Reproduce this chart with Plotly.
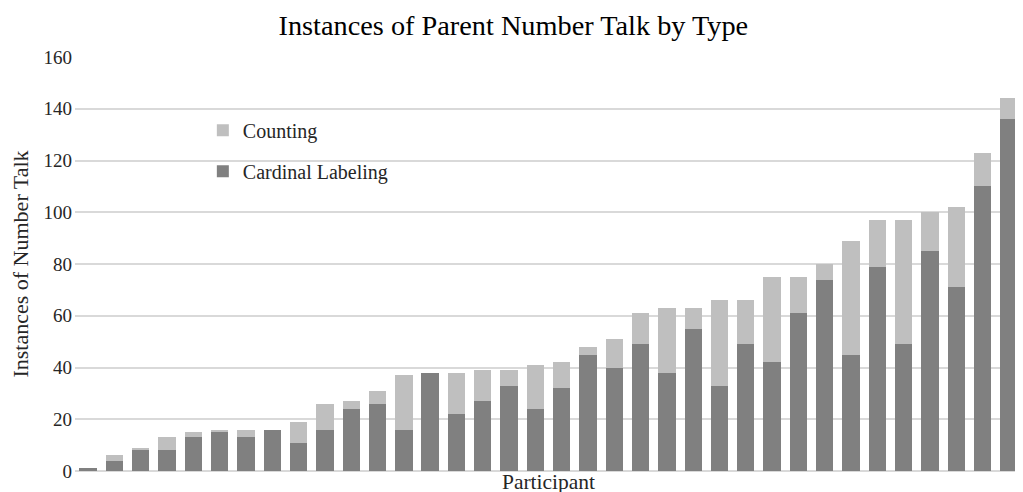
import plotly.graph_objects as go

participants = [f"P{i}" for i in range(1, 37)]
cardinal = [1, 4, 8, 8, 13, 15, 13, 16, 11, 16, 24, 26, 16, 38, 22, 27, 33, 24,
            32, 45, 40, 49, 38, 55, 33, 49, 42, 61, 74, 45, 79, 49, 85, 71, 110, 136]
counting = [0, 2, 1, 5, 2, 1, 3, 0, 8, 10, 3, 5, 21, 0, 16, 12, 6, 17,
            10, 3, 11, 12, 25, 8, 33, 17, 33, 14, 6, 44, 18, 48, 15, 31, 13, 8]
y_ticks = [0, 20, 40, 60, 80, 100, 120, 140, 160]

FONT = "Liberation Serif, Times New Roman, serif"

fig = go.Figure()
fig.add_trace(go.Bar(x=participants, y=cardinal, name="Cardinal Labeling",
                     marker=dict(color="#808080", line=dict(width=0)),
                     legendgroup="a", legendrank=2))
fig.add_trace(go.Bar(x=participants, y=counting, name="Counting",
                     marker=dict(color="#bfbfbf", line=dict(width=0)),
                     legendgroup="b", legendrank=1))

fig.update_layout(
    barmode="stack",
    bargap=0.34,
    width=1023, height=492,
    margin=dict(l=67, r=9, t=49, b=29),
    paper_bgcolor="white", plot_bgcolor="white",
    font=dict(family=FONT, size=19, color="#262626"),
    title=dict(text="Instances of Parent Number Talk by Type", x=0.494, xanchor="center",
               y=0.985, yanchor="top", font=dict(family=FONT, size=28.3, color="#000000")),
    legend=dict(x=0.135, y=0.87, xanchor="left", yanchor="top", traceorder="grouped",
                tracegroupgap=12, bgcolor="rgba(0,0,0,0)", font=dict(size=20, color="#262626"),
                itemwidth=30),
    xaxis=dict(showticklabels=False, ticks="", showgrid=False, showline=False,
               title=dict(text="Participant", standoff=2, font=dict(size=21.5, color="#262626"))),
    yaxis=dict(range=[0, 160], tickvals=y_ticks, showgrid=True, gridcolor="#d9d9d9", gridwidth=1.5,
               zeroline=True, zerolinecolor="#d9d9d9", zerolinewidth=1.5, ticks="",
               automargin=False, ticklabelstandoff=2,
               tickfont=dict(size=19, color="#262626"),
               title=dict(text="Instances of Number Talk", standoff=9, font=dict(size=22, color="#262626"))),
)

fig.write_html("out.html")
